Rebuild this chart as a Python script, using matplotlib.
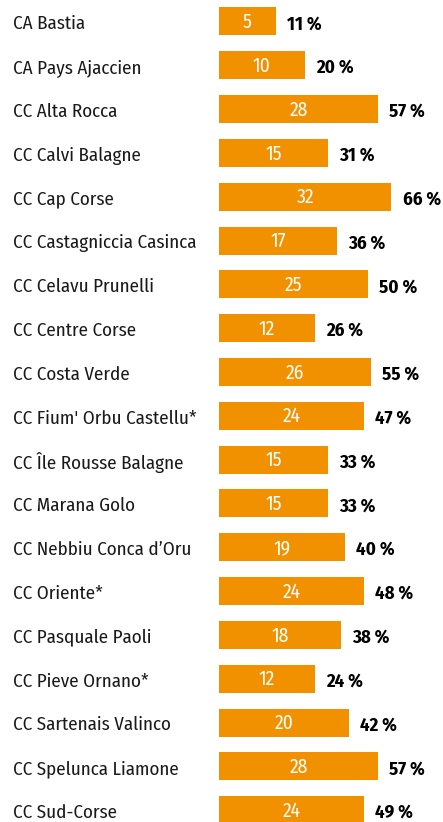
import numpy as np
import matplotlib.pyplot as plt
import matplotlib.transforms as mtransforms

names = ["CA Bastia", "CA Pays Ajaccien", "CC Alta Rocca", "CC Calvi Balagne",
         "CC Cap Corse", "CC Castagniccia Casinca", "CC Celavu Prunelli",
         "CC Centre Corse", "CC Costa Verde", "CC Fium' Orbu Castellu*",
         "CC Île Rousse Balagne", "CC Marana Golo", "CC Nebbiu Conca d\u2019Oru",
         "CC Oriente*", "CC Pasquale Paoli", "CC Pieve Ornano*",
         "CC Sartenais Valinco", "CC Spelunca Liamone", "CC Sud-Corse"]
counts = [5, 10, 28, 15, 32, 17, 25, 12, 26, 24, 15, 15, 19, 24, 18, 12, 20, 28, 24]
percents = [11, 20, 57, 31, 66, 36, 50, 26, 55, 47, 33, 33, 40, 48, 38, 24, 42, 57, 49]

orange = "#F29100"

plt.rcParams['font.family'] = ['Fira Sans Condensed', 'Roboto Condensed', 'DejaVu Sans']

fig = plt.figure(figsize=(4.43, 8.22), dpi=100)
ax = fig.add_axes([219 / 443, 0, 1 - 219 / 443, 1])

# bar lengths follow a power scale (the infographic is not linear)
p = 0.6
ax.set_xscale('function', functions=(lambda v: np.sign(v) * np.abs(v) ** p,
                                     lambda v: np.sign(v) * np.abs(v) ** (1 / p)))

y = np.arange(len(names))
ax.barh(y, counts, height=0.64, color=orange, left=0)
ax.set_xlim(0, 49.5)
ax.set_ylim(18.27, -0.49)
ax.axis('off')

lab_tr = mtransforms.blended_transform_factory(fig.transFigure, ax.transData)
for i in range(len(names)):
    ax.text(13 / 443, y[i] + 0.06, names[i], transform=lab_tr, ha='left', va='center',
            fontsize=13.7, color='#1a1a1a')
    # value inside bar, centred
    mid = (counts[i] ** p / 2) ** (1 / p)
    ax.text(mid, y[i] + 0.02, str(counts[i]), ha='center', va='center',
            fontsize=14, color='white')
    ax.annotate("%d %%" % percents[i], xy=(counts[i], y[i] + 0.06),
                xytext=(8, 0), textcoords='offset points', ha='left', va='center',
                fontsize=13.5, fontweight='bold', color='black', annotation_clip=False)

fig.savefig("out.png", dpi=100)
